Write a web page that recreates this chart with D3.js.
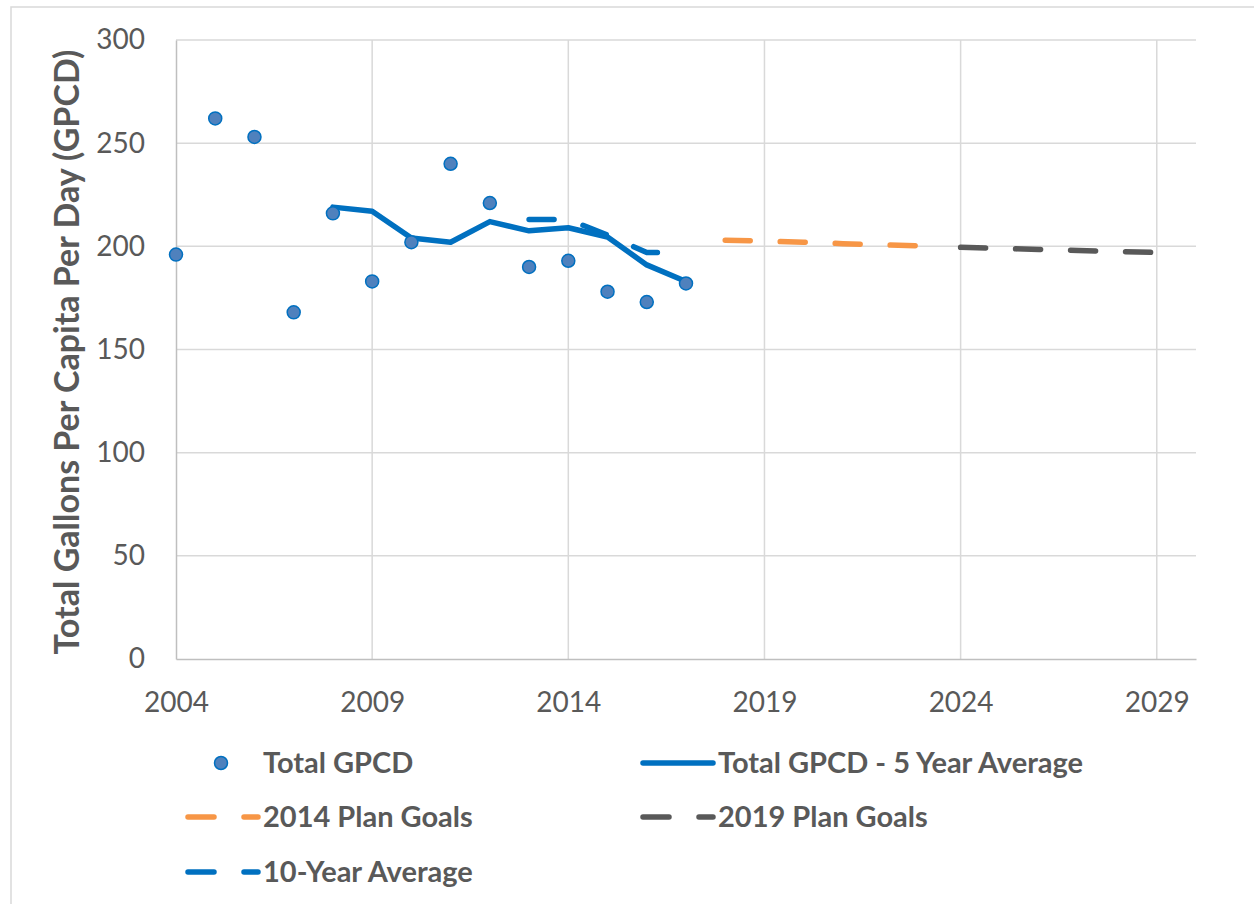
<!DOCTYPE html>
<html>
<head>
<style type="text/css">
body { margin: 0; background: #fff; }
text { font-family: Lato, "Open Sans", sans-serif; fill: #595959; }
.grid line { stroke: #d9d9d9; stroke-width: 1.5; }
.tick text { font-size: 28px; }
.legend text { font-size: 29px; font-weight: bold; }
</style>
<script src="https://d3js.org/d3.v7.min.js"></script>
</head>
<body>
<script type="text/javascript">
var width = 1254;
var height = 904;

// Total GPCD, yearly
var years = [2004, 2005, 2006, 2007, 2008, 2009, 2010, 2011, 2012, 2013, 2014, 2015, 2016, 2017];
var gpcd = [196, 262, 253, 168, 216, 183, 202, 240, 221, 190, 193, 178, 173, 182];

// 5 year average
var avg5Years = [2008, 2009, 2010, 2011, 2012, 2013, 2014, 2015, 2016, 2017];
var avg5 = [219, 217, 204, 202, 212, 207.5, 209, 204.5, 191, 183];

// 10 year average
var avg10Years = [2013, 2014, 2015, 2016, 2017];
var avg10 = [213, 213, 205.5, 197, 197];

// plan goals
var plan2014Years = [2018, 2019, 2020, 2021, 2022, 2023];
var plan2014 = [203, 202.5, 202, 201.3, 200.7, 200.2];
var plan2019Years = [2024, 2025, 2026, 2027, 2028, 2029];
var plan2019 = [199.5, 199, 198.5, 198, 197.5, 197];

var xTicks = [2004, 2009, 2014, 2019, 2024, 2029];
var yTicks = [0, 50, 100, 150, 200, 250, 300];

var blue = "#0070c0", orange = "#f79646", grey = "#595959";

var svg = d3.select("body").append("svg").attr("width", width).attr("height", height);

svg.append("rect").attr("x", 11).attr("y", 7).attr("width", 1260).attr("height", 920)
	.attr("fill", "#fff").attr("stroke", "#d9d9d9").attr("stroke-width", 1.5);

var x = d3.scaleLinear().domain([2004, 2030]).range([176, 1196]);
var y = d3.scaleLinear().domain([0, 300]).range([659, 40]);

// gridlines
var grid = svg.append("g").attr("class", "grid");
grid.selectAll(".hg").data(yTicks.slice(1)).enter().append("line")
	.attr("x1", x(2004)).attr("x2", x(2030))
	.attr("y1", function(d) { return y(d); }).attr("y2", function(d) { return y(d); });
grid.selectAll(".vg").data(xTicks.slice(1)).enter().append("line")
	.attr("x1", function(d) { return x(d); }).attr("x2", function(d) { return x(d); })
	.attr("y1", y(300)).attr("y2", y(0));

// axes
var xAxis = svg.append("g").attr("transform", "translate(0," + y(0) + ")")
	.call(d3.axisBottom(x).tickValues(xTicks).tickFormat(d3.format("d")).tickSize(0).tickPadding(33));
xAxis.select(".domain").attr("stroke", "#bfbfbf").attr("stroke-width", 1.5);
var yAxis = svg.append("g").attr("transform", "translate(" + x(2004) + ",0)")
	.call(d3.axisLeft(y).tickValues(yTicks).tickSize(0).tickPadding(31));
yAxis.select(".domain").attr("stroke", "#bfbfbf").attr("stroke-width", 1.5);
svg.selectAll(".tick text").attr("fill", "#595959").style("font-family", "Lato, sans-serif");

svg.append("text")
	.attr("transform", "translate(79,352) rotate(-90)")
	.attr("text-anchor", "middle")
	.style("font-size", "34px").style("font-weight", "bold")
	.text("Total Gallons Per Capita Per Day (GPCD)");

function pts(xs, ys) { return xs.map(function(d, i) { return [d, ys[i]]; }); }
var line = d3.line().x(function(d) { return x(d[0]); }).y(function(d) { return y(d[1]); });

function drawLine(data, color, dashed) {
	var p = svg.append("path").datum(data).attr("d", line)
		.attr("fill", "none").attr("stroke", color).attr("stroke-width", 5.5)
		.attr("stroke-linecap", "round").attr("stroke-linejoin", "round");
	if (dashed) p.attr("stroke-dasharray", "25,30");
	return p;
}

drawLine(pts(avg5Years, avg5), blue, false);
drawLine(pts(avg10Years, avg10), blue, true);
drawLine(pts(plan2014Years, plan2014), orange, true);
drawLine(pts(plan2019Years, plan2019), grey, true);

svg.selectAll(".dot").data(pts(years, gpcd)).enter().append("circle")
	.attr("cx", function(d) { return x(d[0]); })
	.attr("cy", function(d) { return y(d[1]); })
	.attr("r", 6.5)
	.attr("fill", "#4f81bd").attr("stroke", blue).attr("stroke-width", 1.5);

// legend
var legend = svg.append("g").attr("class", "legend");
var items = [
	{ name: "Total GPCD", type: "dot", color: blue, x: 263, y: 763 },
	{ name: "Total GPCD - 5 Year Average", type: "solid", color: blue, x: 718, y: 763 },
	{ name: "2014 Plan Goals", type: "dash", color: orange, x: 263, y: 817 },
	{ name: "2019 Plan Goals", type: "dash", color: grey, x: 718, y: 817 },
	{ name: "10-Year Average", type: "dash", color: blue, x: 263, y: 872 }
];
items.forEach(function(it) {
	if (it.type == "dot") {
		legend.append("circle").attr("cx", it.x - 42).attr("cy", it.y).attr("r", 6.5)
			.attr("fill", "#4f81bd").attr("stroke", blue).attr("stroke-width", 1.5);
	} else {
		var l = legend.append("line").attr("x1", it.x - 75).attr("x2", it.x - 5)
			.attr("y1", it.y).attr("y2", it.y)
			.attr("stroke", it.color).attr("stroke-width", 5.5).attr("stroke-linecap", "round");
		if (it.type == "dash") l.attr("stroke-dasharray", "26,30");
	}
	legend.append("text").attr("x", it.x).attr("y", it.y).attr("dy", "0.35em").text(it.name);
});
</script>
</body>
</html>
